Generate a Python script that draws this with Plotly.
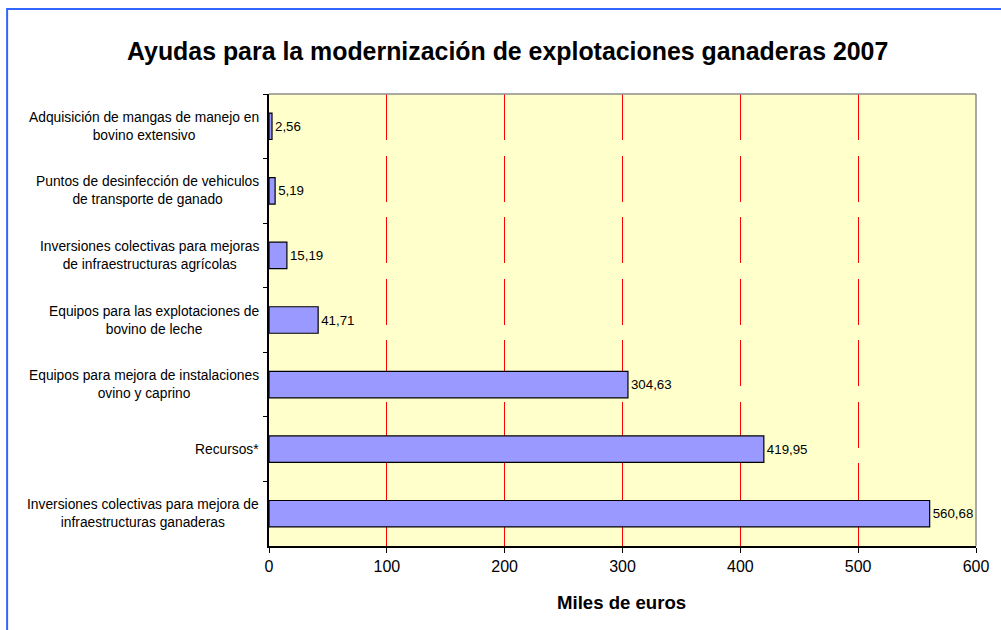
import plotly.graph_objects as go

categories = [
    "Adquisición de mangas de manejo en<br>bovino extensivo",
    "Puntos de desinfección de vehiculos<br>de transporte de ganado",
    "Inversiones colectivas para mejoras<br>de infraestructuras agrícolas",
    "Equipos para las explotaciones de<br>bovino de leche",
    "Equipos para mejora de instalaciones<br>ovino y caprino",
    "Recursos*",
    "Inversiones colectivas para mejora de<br>infraestructuras ganaderas",
]
values = [2.56, 5.19, 15.19, 41.71, 304.63, 419.95, 560.68]
x_ticks = [0, 100, 200, 300, 400, 500, 600]

W, H = 1001, 630
L, R, T, B = 269, 979, 94, 546

def px(x):
    return (x - L) / (R - L)

def py(y):
    return (B - y) / (B - T)

FONT = "Liberation Sans, Arial, sans-serif"

fig = go.Figure(go.Bar(
    y=categories, x=values, orientation="h",
    marker=dict(color="#9999ff", line=dict(color="#000000", width=1.2)),
    width=0.41,
    texttemplate="%{x:.2f}", textposition="outside",
    textfont=dict(family=FONT, size=13.3, color="#000000"),
    cliponaxis=False,
))

annotations = []
for c in categories:
    annotations.append(dict(
        x=0, xref="paper", y=c, yref="y", text=c, showarrow=False,
        xanchor="right", yanchor="middle", align="center", xshift=-8,
        font=dict(family=FONT, size=13.8, color="#000000"),
    ))

annotations.append(dict(
    x=px(509), y=py(51), xref="paper", yref="paper",
    text="<b>Ayudas para la modernización de explotaciones ganaderas 2007</b>",
    showarrow=False, xanchor="center", yanchor="middle",
    font=dict(family=FONT, size=24.9, color="#000000"),
))
annotations.append(dict(
    x=px(623), y=py(602), xref="paper", yref="paper",
    text="<b>Miles de euros</b>", showarrow=False,
    xanchor="center", yanchor="middle",
    font=dict(family=FONT, size=18.6, color="#000000"),
))

shapes = [
    dict(type="line", xref="paper", yref="paper", x0=0, x1=1, y0=1, y1=1,
         line=dict(color="#8c8c8c", width=1.5)),
    dict(type="line", xref="paper", yref="paper", x0=1, x1=1, y0=0, y1=1,
         line=dict(color="#8c8c8c", width=1.5)),
    dict(type="rect", xref="paper", yref="paper",
         x0=px(6), x1=px(1015), y0=py(9), y1=py(640),
         line=dict(color="#3366ff", width=2)),
]

fig.update_layout(
    width=W, height=H,
    margin=dict(l=L, r=W - R, t=T, b=H - B),
    paper_bgcolor="#ffffff", plot_bgcolor="#ffffcc",
    separators=",.",
    showlegend=False,
    annotations=annotations,
    shapes=shapes,
    font=dict(family=FONT, color="#000000"),
    xaxis=dict(
        range=[0, 600], tickvals=x_ticks, ticks="outside", ticklen=5,
        tickcolor="#000000", showline=True, linecolor="#000000", linewidth=1.5,
        showgrid=True, gridcolor="#ff0000", gridwidth=1, griddash="46px,15.5px",
        zeroline=False, tickfont=dict(family=FONT, size=16, color="#000000"),
        fixedrange=True,
    ),
    yaxis=dict(
        type="category", autorange="reversed", showticklabels=False,
        ticks="outside", ticklen=4, tickcolor="#000000", tickson="boundaries",
        showline=True, linecolor="#000000", linewidth=1.5, showgrid=False,
        zeroline=False, fixedrange=True,
    ),
)

fig.write_html(
    "out.html",
    config={"displayModeBar": False},
    post_script="document.body.style.margin='0';document.body.style.overflow='hidden';",
)
